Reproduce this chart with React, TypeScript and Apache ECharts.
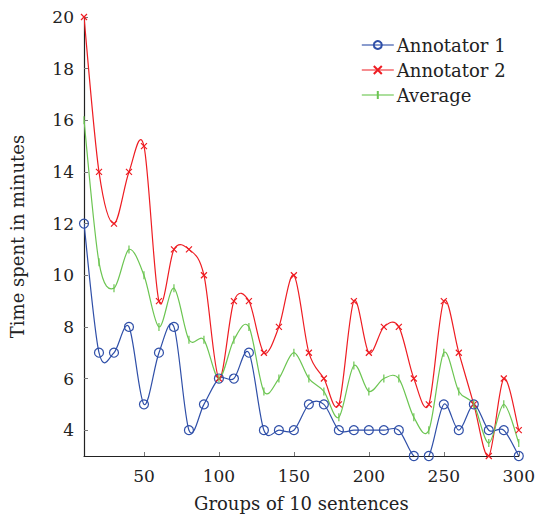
import React, { useEffect, useRef } from "react";
import * as echarts from "echarts";

const groups = [10,20,30,40,50,60,70,80,90,100,110,120,130,140,150,160,170,180,190,200,210,220,230,240,250,260,270,280,290,300];
const annotator1 = [12,7,7,8,5,7,8,4,5,6,6,7,4,4,4,5,5,4,4,4,4,4,3,3,5,4,5,4,4,3];
const annotator2 = [20,14,12,14,15,9,11,11,10,6,9,9,7,8,10,7,6,5,9,7,8,8,6,5,9,7,5,3,6,4];
const average = [16,10.5,9.5,11,10,8,9.5,7.5,7.5,6,7.5,8,5.5,6,7,6,5.5,4.5,6.5,5.5,6,6,4.5,4,7,5.5,5,3.5,5,3.5];
const xTicks = [50,100,150,200,250,300];
const yTicks = [4,6,8,10,12,14,16,18,20];

const FONT = "DejaVu Serif";
const BLUE = "#2f4fa8";
const RED = "#ee1c22";
const GREEN = "#6cc552";
const K = 0.16;

export default function App() {
  const ref = useRef<HTMLDivElement>(null);
  useEffect(() => {
    const chart = echarts.init(ref.current!, null, { renderer: "svg" });
    const pts = (ys: number[]) => groups.map((x, i) => [x, ys[i]]);
    const markSeries = (name: string, ys: number[], symbol: string, size: number, itemStyle: any) => ({
      name,
      type: "line",
      data: pts(ys),
      symbol,
      symbolSize: size,
      showSymbol: true,
      lineStyle: { opacity: 0, width: 0 },
      itemStyle,
      z: 4,
    });
    const curveSeries = (name: string, ys: number[], color: string) => ({
      name,
      type: "custom",
      data: pts(ys),
      encode: { x: 0, y: 1 },
      clip: true,
      z: 3,
      silent: true,
      renderItem: (params: any, api: any) => {
        if (params.dataIndex !== 0) return null;
        const p = groups.map((x, i) => api.coord([x, ys[i]]));
        const n = p.length;
        let d = `M${p[0][0]},${p[0][1]}`;
        for (let i = 0; i < n - 1; i++) {
          const a = p[Math.max(i - 1, 0)];
          const b = p[i];
          const c = p[i + 1];
          const e = p[Math.min(i + 2, n - 1)];
          const c1x = b[0] + K * (c[0] - a[0]);
          const c1y = b[1] + K * (c[1] - a[1]);
          const c2x = c[0] - K * (e[0] - b[0]);
          const c2y = c[1] - K * (e[1] - b[1]);
          d += ` C${c1x},${c1y} ${c2x},${c2y} ${c[0]},${c[1]}`;
        }
        return {
          type: "path",
          shape: { pathData: d },
          style: { stroke: color, fill: "none", lineWidth: 1.2 },
        };
      },
    });
    chart.setOption({
      animation: false,
      backgroundColor: "#ffffff",
      grid: { left: 84, right: 16, top: 17, bottom: 56 },
      legend: {
        left: 356,
        top: 31,
        orient: "vertical",
        itemWidth: 32,
        itemHeight: 10,
        itemGap: 7,
        textStyle: { fontFamily: FONT, fontSize: 18, color: "#222", padding: [0, 0, 0, -2] },
        data: [
          { name: "Annotator 1", lineStyle: { opacity: 0.75, width: 1.6, color: BLUE } },
          { name: "Annotator 2", lineStyle: { opacity: 1, width: 1.2, color: RED } },
          { name: "Average", lineStyle: { opacity: 0.75, width: 1.6, color: GREEN } },
        ],
      },
      xAxis: {
        type: "value",
        min: 10,
        max: 300,
        name: "Groups of 10 sentences",
        nameLocation: "middle",
        nameGap: 38,
        nameTextStyle: { fontFamily: FONT, fontSize: 18, color: "#222" },
        axisLine: { show: true, onZero: false, lineStyle: { color: "#222", width: 1.2 } },
        axisTick: { show: true, inside: true, length: 4, customValues: xTicks, lineStyle: { color: "#777" } },
        axisLabel: { customValues: xTicks, fontFamily: FONT, fontSize: 17, color: "#222", margin: 11 },
        splitLine: { show: false },
      },
      yAxis: {
        type: "value",
        min: 3,
        max: 20,
        name: "Time spent in minutes",
        nameLocation: "middle",
        nameGap: 58,
        nameRotate: 90,
        nameTextStyle: { fontFamily: FONT, fontSize: 18, color: "#222" },
        axisLine: { show: true, onZero: false, lineStyle: { color: "#222", width: 1.2 } },
        axisTick: { show: true, inside: true, length: 4, customValues: yTicks, lineStyle: { color: "#777" } },
        axisLabel: { customValues: yTicks, fontFamily: FONT, fontSize: 17, color: "#222", margin: 10 },
        splitLine: { show: false },
      },
      series: [
        markSeries("Annotator 1", annotator1, "circle", 9, { color: "rgba(255,255,255,0)", borderColor: BLUE, borderWidth: 1.2 }),
        markSeries("Annotator 2", annotator2, "path://M0,0L10,10M10,0L0,10", 6, { color: "none", borderColor: RED, borderWidth: 1.2 }),
        markSeries("Average", average, "path://M0,0M10,10M5,0L5,10", 8, { color: "none", borderColor: GREEN, borderWidth: 1.2 }),
        curveSeries("Annotator 1", annotator1, BLUE),
        curveSeries("Annotator 2", annotator2, RED),
        curveSeries("Average", average, GREEN),
      ],
    });
    return () => chart.dispose();
  }, []);
  return <div ref={ref} style={{ position: "absolute", left: 0, top: 0, width: 538, height: 517 }} />;
}
